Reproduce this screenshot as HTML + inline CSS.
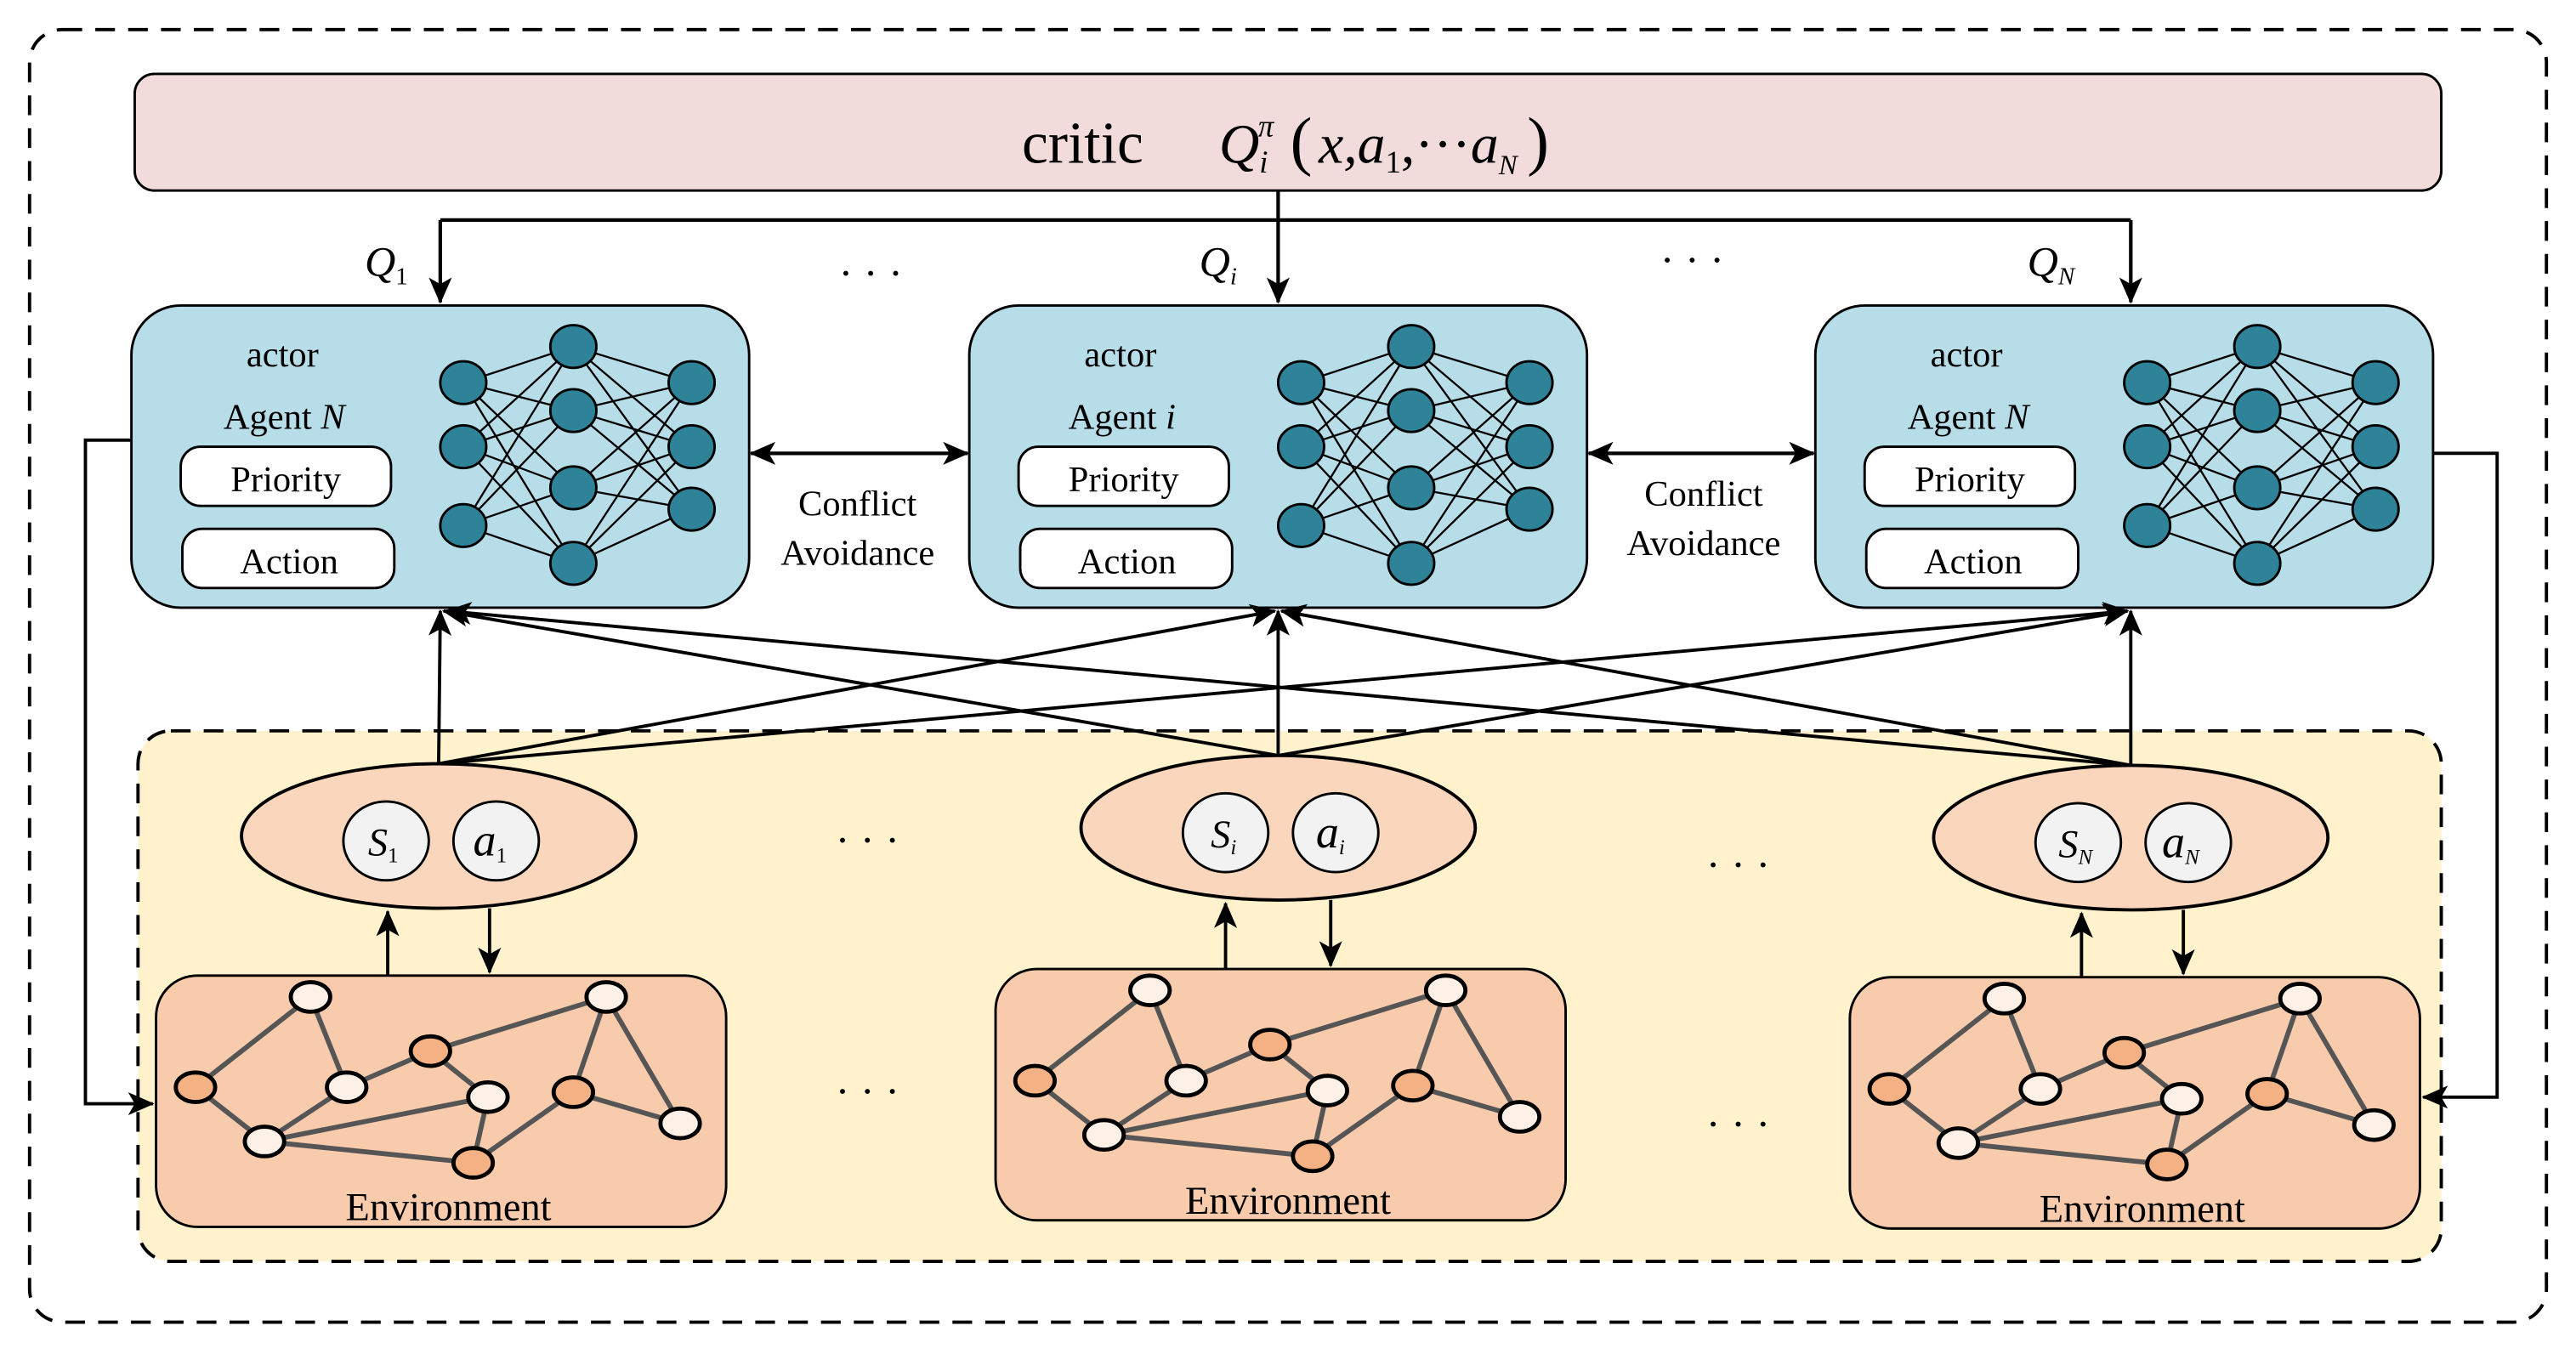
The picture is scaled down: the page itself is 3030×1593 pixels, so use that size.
<!DOCTYPE html>
<html><head><meta charset="utf-8"><style>html,body{margin:0;padding:0;background:#fff}svg{display:block}</style></head><body>
<svg width="3030" height="1593" viewBox="0 0 1568 824.4" preserveAspectRatio="none" xmlns="http://www.w3.org/2000/svg" font-family="Liberation Serif, serif">
<defs>
<marker id="ar2" markerWidth="16" markerHeight="14" refX="15" refY="7" orient="auto" markerUnits="userSpaceOnUse" viewBox="0 0 16 14"><path d="M0,0 L16,7 L0,14 L4,7 z" fill="#000"/></marker>
<marker id="ars" markerWidth="16" markerHeight="14" refX="1" refY="7" orient="auto" markerUnits="userSpaceOnUse" viewBox="0 0 16 14"><path d="M16,0 L0,7 L16,14 L12,7 z" fill="#000"/></marker>
<g id="nn" stroke="#000" stroke-width="1.2">
<g>
<line x1="282" y1="233" x2="349" y2="211"/><line x1="282" y1="233" x2="349" y2="250"/><line x1="282" y1="233" x2="349" y2="297"/><line x1="282" y1="233" x2="349" y2="343"/>
<line x1="282" y1="272" x2="349" y2="211"/><line x1="282" y1="272" x2="349" y2="250"/><line x1="282" y1="272" x2="349" y2="297"/><line x1="282" y1="272" x2="349" y2="343"/>
<line x1="282" y1="320" x2="349" y2="211"/><line x1="282" y1="320" x2="349" y2="250"/><line x1="282" y1="320" x2="349" y2="297"/><line x1="282" y1="320" x2="349" y2="343"/>
<line x1="421" y1="233" x2="349" y2="211"/><line x1="421" y1="233" x2="349" y2="250"/><line x1="421" y1="233" x2="349" y2="297"/><line x1="421" y1="233" x2="349" y2="343"/>
<line x1="421" y1="272" x2="349" y2="211"/><line x1="421" y1="272" x2="349" y2="250"/><line x1="421" y1="272" x2="349" y2="297"/><line x1="421" y1="272" x2="349" y2="343"/>
<line x1="421" y1="310" x2="349" y2="211"/><line x1="421" y1="310" x2="349" y2="250"/><line x1="421" y1="310" x2="349" y2="297"/><line x1="421" y1="310" x2="349" y2="343"/>
</g>
<g fill="#2e8399" stroke-width="1.5">
<ellipse cx="282" cy="233" rx="14" ry="13"/><ellipse cx="282" cy="272" rx="14" ry="13"/><ellipse cx="282" cy="320" rx="14" ry="13"/>
<ellipse cx="349" cy="211" rx="14" ry="13"/><ellipse cx="349" cy="250" rx="14" ry="13"/><ellipse cx="349" cy="297" rx="14" ry="13"/><ellipse cx="349" cy="343" rx="14" ry="13"/>
<ellipse cx="421" cy="233" rx="14" ry="13"/><ellipse cx="421" cy="272" rx="14" ry="13"/><ellipse cx="421" cy="310" rx="14" ry="13"/>
</g>
</g>
<g id="gr">
<g stroke="#555" stroke-width="3">
<line x1="119" y1="662" x2="189" y2="607"/><line x1="189" y1="607" x2="211" y2="662"/><line x1="119" y1="662" x2="161" y2="695"/><line x1="161" y1="695" x2="211" y2="662"/>
<line x1="211" y1="662" x2="262" y2="640"/><line x1="262" y1="640" x2="369" y2="607"/><line x1="369" y1="607" x2="349" y2="665"/><line x1="369" y1="607" x2="414" y2="684"/>
<line x1="349" y1="665" x2="414" y2="684"/><line x1="161" y1="695" x2="297" y2="668"/><line x1="161" y1="695" x2="288" y2="708"/><line x1="297" y1="668" x2="288" y2="708"/>
<line x1="288" y1="708" x2="349" y2="665"/><line x1="262" y1="640" x2="297" y2="668"/>
</g>
<g stroke="#000" stroke-width="2.5">
<ellipse cx="189" cy="607" rx="12" ry="9" fill="#fdf0e6"/><ellipse cx="119" cy="662" rx="12" ry="9" fill="#f4b183"/><ellipse cx="211" cy="662" rx="12" ry="9" fill="#fdf0e6"/>
<ellipse cx="262" cy="640" rx="12" ry="9" fill="#f4b183"/><ellipse cx="297" cy="668" rx="12" ry="9" fill="#fdf0e6"/><ellipse cx="161" cy="695" rx="12" ry="9" fill="#fdf0e6"/>
<ellipse cx="288" cy="708" rx="12" ry="9" fill="#f4b183"/><ellipse cx="349" cy="665" rx="12" ry="9" fill="#f4b183"/><ellipse cx="369" cy="607" rx="12" ry="9" fill="#fdf0e6"/>
<ellipse cx="414" cy="684" rx="12" ry="9" fill="#fdf0e6"/>
</g>
</g>
</defs>
<rect x="18" y="18" width="1532" height="787" rx="20" fill="none" stroke="#000" stroke-width="2" stroke-dasharray="12,8"/>
<rect x="82" y="45" width="1404" height="71" rx="12" fill="#f2dcdb" stroke="#000" stroke-width="1.5"/>
<text x="622" y="99" font-size="36">critic</text>
<text x="742" y="99" font-size="34" font-style="italic">Q<tspan font-size="19" dy="6">i</tspan><tspan font-size="19" dx="-6" dy="-22">π</tspan><tspan dy="16" font-style="normal" font-size="40"> (</tspan><tspan dx="4">x,a</tspan><tspan font-size="19" dy="6" font-style="normal">1</tspan><tspan dy="-6" font-style="normal">,···</tspan>a<tspan font-size="17" dy="7">N</tspan><tspan dy="-7" font-style="normal" font-size="40" dx="6">)</tspan></text>
<g stroke="#000" stroke-width="2.2" fill="none">
<line x1="268" y1="134" x2="1297" y2="134"/>
<line x1="778" y1="116" x2="778" y2="184" marker-end="url(#ar2)"/>
<line x1="268" y1="134" x2="268" y2="184" marker-end="url(#ar2)"/>
<line x1="1297" y1="134" x2="1297" y2="184" marker-end="url(#ar2)"/>
</g>
<g font-size="26" font-style="italic">
<text x="222" y="168">Q<tspan font-size="15" font-style="normal" dy="5">1</tspan></text>
<text x="730" y="168">Q<tspan font-size="15" dy="5">i</tspan></text>
<text x="1234" y="168">Q<tspan font-size="15" dy="5">N</tspan></text>
</g>
<text x="530" y="175" font-size="26" text-anchor="middle">· · ·</text>
<text x="1030" y="167" font-size="26" text-anchor="middle">· · ·</text>
<rect x="84" y="445" width="1402" height="323" rx="20" fill="#fff2cc" stroke="#000" stroke-width="2" stroke-dasharray="12,8"/>
<g>
<rect x="80" y="186" width="376" height="184" rx="30" fill="#b7dde8" stroke="#000" stroke-width="1.5"/>
<text x="172" y="223" font-size="22" text-anchor="middle">actor</text>
<text x="173" y="261" font-size="22" text-anchor="middle">Agent <tspan font-style="italic">N</tspan></text>
<rect x="110" y="272" width="128" height="36" rx="12" fill="#fff" stroke="#000" stroke-width="1.5"/>
<text x="174" y="299" font-size="22" text-anchor="middle">Priority</text>
<rect x="111" y="322" width="129" height="36" rx="12" fill="#fff" stroke="#000" stroke-width="1.5"/>
<text x="176" y="349" font-size="22" text-anchor="middle">Action</text>
<use href="#nn"/>
</g>
<g transform="translate(510,0)">
<rect x="80" y="186" width="376" height="184" rx="30" fill="#b7dde8" stroke="#000" stroke-width="1.5"/>
<text x="172" y="223" font-size="22" text-anchor="middle">actor</text>
<text x="173" y="261" font-size="22" text-anchor="middle">Agent <tspan font-style="italic">i</tspan></text>
<rect x="110" y="272" width="128" height="36" rx="12" fill="#fff" stroke="#000" stroke-width="1.5"/>
<text x="174" y="299" font-size="22" text-anchor="middle">Priority</text>
<rect x="111" y="322" width="129" height="36" rx="12" fill="#fff" stroke="#000" stroke-width="1.5"/>
<text x="176" y="349" font-size="22" text-anchor="middle">Action</text>
<use href="#nn"/>
</g>
<g transform="translate(1025,0)">
<rect x="80" y="186" width="376" height="184" rx="30" fill="#b7dde8" stroke="#000" stroke-width="1.5"/>
<text x="172" y="223" font-size="22" text-anchor="middle">actor</text>
<text x="173" y="261" font-size="22" text-anchor="middle">Agent <tspan font-style="italic">N</tspan></text>
<rect x="110" y="272" width="128" height="36" rx="12" fill="#fff" stroke="#000" stroke-width="1.5"/>
<text x="174" y="299" font-size="22" text-anchor="middle">Priority</text>
<rect x="111" y="322" width="129" height="36" rx="12" fill="#fff" stroke="#000" stroke-width="1.5"/>
<text x="176" y="349" font-size="22" text-anchor="middle">Action</text>
<use href="#nn"/>
</g>
<g stroke="#000" stroke-width="2.2" fill="none">
<line x1="457" y1="276" x2="589" y2="276" marker-start="url(#ars)" marker-end="url(#ar2)"/>
<line x1="967" y1="276" x2="1104" y2="276" marker-start="url(#ars)" marker-end="url(#ar2)"/>
</g>
<g font-size="22" text-anchor="middle">
<text x="522" y="314">Conflict</text><text x="522" y="344">Avoidance</text>
<text x="1037" y="308">Conflict</text><text x="1037" y="338">Avoidance</text>
</g>
<g stroke="#000" stroke-width="2" fill="none">
<line x1="267" y1="465" x2="268" y2="372" marker-end="url(#ar2)"/>
<line x1="267" y1="465" x2="776" y2="372" marker-end="url(#ar2)"/>
<line x1="267" y1="465" x2="1295" y2="372" marker-end="url(#ar2)"/>
<line x1="778" y1="460" x2="270" y2="372" marker-end="url(#ar2)"/>
<line x1="778" y1="460" x2="778" y2="372" marker-end="url(#ar2)"/>
<line x1="778" y1="460" x2="1295" y2="372" marker-end="url(#ar2)"/>
<line x1="1297" y1="466" x2="272" y2="372" marker-end="url(#ar2)"/>
<line x1="1297" y1="466" x2="780" y2="372" marker-end="url(#ar2)"/>
<line x1="1297" y1="466" x2="1297" y2="372" marker-end="url(#ar2)"/>
<polyline points="80,268 52,268 52,672 93,672" marker-end="url(#ar2)"/>
<polyline points="1481,276 1520,276 1520,668 1475,668" marker-end="url(#ar2)"/>
</g>
<g stroke="#000" stroke-width="2">
<ellipse cx="267" cy="509" rx="120" ry="44" fill="#fad7bc"/>
<ellipse cx="778" cy="504" rx="120" ry="44" fill="#fad7bc"/>
<ellipse cx="1297" cy="510" rx="120" ry="44" fill="#fad7bc"/>
<ellipse cx="235" cy="512" rx="26" ry="24" fill="#f2f2f2" stroke-width="1.5"/><ellipse cx="302" cy="512" rx="26" ry="24" fill="#f2f2f2" stroke-width="1.5"/>
<ellipse cx="746" cy="507" rx="26" ry="24" fill="#f2f2f2" stroke-width="1.5"/><ellipse cx="813" cy="507" rx="26" ry="24" fill="#f2f2f2" stroke-width="1.5"/>
<ellipse cx="1265" cy="513" rx="26" ry="24" fill="#f2f2f2" stroke-width="1.5"/><ellipse cx="1332" cy="513" rx="26" ry="24" fill="#f2f2f2" stroke-width="1.5"/>
</g>
<g font-size="24" font-style="italic">
<text x="224" y="521">S<tspan font-size="13" font-style="normal" dy="4">1</tspan></text>
<text x="288" y="521" font-size="28">a<tspan font-size="13" font-style="normal" dy="4">1</tspan></text>
<text x="737" y="516">S<tspan font-size="13" dy="4">i</tspan></text>
<text x="801" y="516" font-size="28">a<tspan font-size="13" dy="4">i</tspan></text>
<text x="1253" y="522">S<tspan font-size="13" dy="4">N</tspan></text>
<text x="1316" y="522" font-size="28">a<tspan font-size="13" dy="4">N</tspan></text>
</g>
<g font-size="26" text-anchor="middle">
<text x="528" y="520">· · ·</text><text x="528" y="673">· · ·</text>
<text x="1058" y="535">· · ·</text><text x="1058" y="693">· · ·</text>
</g>
<g>
<rect x="95" y="594" width="347" height="153" rx="25" fill="#f8cbad" stroke="#000" stroke-width="1.5"/>
<use href="#gr"/>
<text x="273" y="743" font-size="24" text-anchor="middle">Environment</text>
</g>
<g transform="translate(511,-4)">
<rect x="95" y="594" width="347" height="153" rx="25" fill="#f8cbad" stroke="#000" stroke-width="1.5"/>
<use href="#gr"/>
<text x="273" y="743" font-size="24" text-anchor="middle">Environment</text>
</g>
<g transform="translate(1031,1)">
<rect x="95" y="594" width="347" height="153" rx="25" fill="#f8cbad" stroke="#000" stroke-width="1.5"/>
<use href="#gr"/>
<text x="273" y="743" font-size="24" text-anchor="middle">Environment</text>
</g>
<g stroke="#000" stroke-width="2" fill="none">
<line x1="236" y1="594" x2="236" y2="555" marker-end="url(#ar2)"/>
<line x1="298" y1="553" x2="298" y2="592" marker-end="url(#ar2)"/>
<line x1="746" y1="590" x2="746" y2="550" marker-end="url(#ar2)"/>
<line x1="810" y1="548" x2="810" y2="588" marker-end="url(#ar2)"/>
<line x1="1267" y1="595" x2="1267" y2="556" marker-end="url(#ar2)"/>
<line x1="1329" y1="554" x2="1329" y2="593" marker-end="url(#ar2)"/>
</g>
</svg>
</body></html>
